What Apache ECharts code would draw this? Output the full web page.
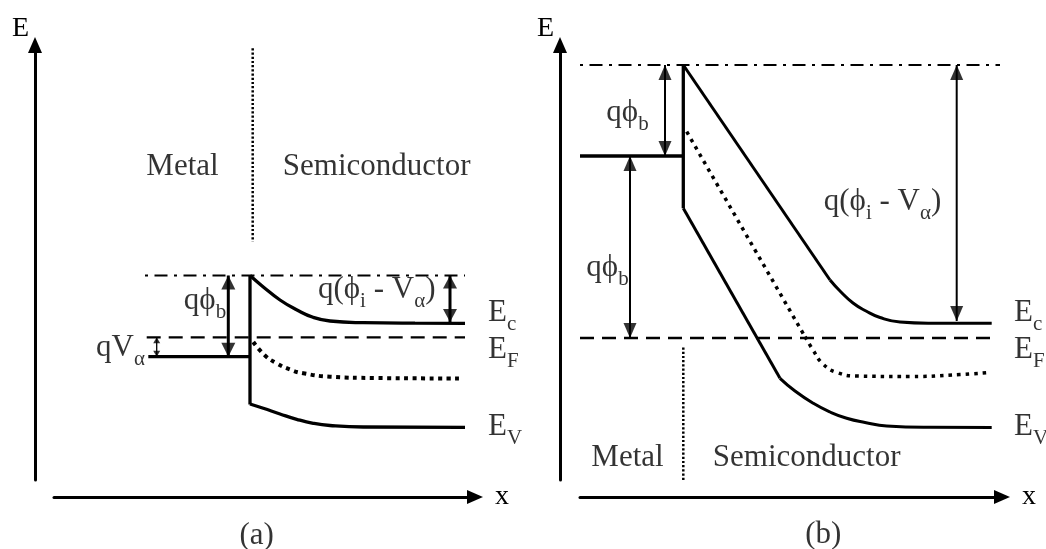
<!DOCTYPE html>
<html><head><meta charset="utf-8">
<script src="https://cdn.jsdelivr.net/npm/echarts@6/dist/echarts.min.js"></script>
<style>html,body{margin:0;padding:0;background:#fff}#c{width:1046px;height:549px}</style>
</head><body><div id="c"></div>
<script>
// ===== Panel (a) — x: distance from E axis, E: energy (same arbitrary units) =====
const aVacuum     = [[110, 204.5], [430, 204.5]];
const aFermiSemi  = [[111.7, 142.7], [430, 142.7]];
const aFermiMetal = [[113.3, 123.3], [215, 123.3]];
const aBarrier    = [[215, 204.5], [215, 75.5]];
const aEc = [[215, 204.5], [228, 193.3], [245, 180], [262, 170], [278, 162.7], [295, 159], [328, 157.3], [380, 156.8], [430, 156.7]];
const aEi = [[218.3, 138], [230, 124.5], [241.7, 116.7], [255, 110.5], [268.3, 106.7], [295, 103.3], [340, 102], [428.3, 101.5]];
const aEv = [[215, 76], [228.3, 71.7], [245, 66], [261.7, 60.7], [278.3, 56.7], [295, 54.5], [328.3, 53], [430, 52.7]];
const aInterface = [[217.7, 431.7], [217.7, 238.3]];
const aArrows = [[193.3, 204.5, 123.3], [415, 204.5, 158], [121.7, 142.7, 123.3]];
const aTexts = [['Metal', 147.5, 313], ['Semiconductor', 341.7, 313], ['qϕ_b', 170, 179], ['q(ϕ_i - V_α)', 341.7, 190], ['(a)', 221.7, -56]];
const aTextsRight = [['E_c', 453, 166.7], ['E_F', 453, 130], ['E_V', 453, 53.3]];
const aTextsLeft = [['qV_α', 110, 132]];

// ===== Panel (b) =====
const bVacuum     = [[20, 415], [440, 415]];
const bFermiSemi  = [[20, 142], [430, 142]];
const bFermiMetal = [[20, 324], [123.3, 324]];
const bBarrier    = [[123.3, 415], [123.3, 271.7]];
const bEcSlope = [[123.3, 415], [270, 200]];
const bEcTail  = [[270, 200], [280, 189], [293, 177], [306, 169], [320, 162.5], [340, 158], [370, 156.8], [431.7, 156.7]];
const bEiSlope = [[126.7, 348.3], [245, 143.3]];
const bEiTail  = [[245, 143.3], [253, 130], [263, 116], [277, 107.5], [297, 104], [350, 103.5], [400, 105.5], [430, 107.5]];
const bEvSlope = [[123.3, 271.7], [220, 101.7]];
const bEvTail  = [[220, 101.7], [235, 89], [253.3, 76.7], [270, 68], [286.7, 61.7], [305, 57.5], [326.7, 54], [370, 52.7], [431.7, 52.5]];
const bInterface = [[123.3, 132.5], [123.3, 0]];
const bArrows = [[105, 415, 324], [70, 324, 142], [396.7, 415, 159]];
const bTexts = [['qϕ_b', 67.5, 367], ['qϕ_b', 47.5, 212], ['q(ϕ_i - V_α)', 322.5, 278], ['Metal', 67.5, 22], ['Semiconductor', 246.7, 22], ['(b)', 263.3, -55]];
const bTextsRight = [['E_c', 454, 166.7], ['E_F', 454, 130], ['E_V', 454, 53.3]];

// ===== styling / helpers =====
const FONT = "'Liberation Serif','DejaVu Serif',serif";
const RICH = {
  m: { fontFamily: FONT, fontSize: 31, lineHeight: 44, color: '#000' },
  s: { fontFamily: FONT, fontSize: 21, lineHeight: 21, verticalAlign: 'bottom', color: '#000' }
};
function toRich(s) {
  let out = '', buf = '';
  for (let i = 0; i < s.length; i++) {
    if (s[i] === '_') { if (buf) { out += '{m|' + buf + '}'; buf = ''; } out += '{s|' + s[i + 1] + '}'; i++; }
    else buf += s[i];
  }
  if (buf) out += '{m|' + buf + '}';
  return out;
}
function line(g, data, style, smooth) {
  return { type: 'line', xAxisIndex: g, yAxisIndex: g, data, symbol: 'none', silent: true, animation: false,
    smooth: smooth || false, z: 2,
    lineStyle: Object.assign({ color: '#000', width: 3 }, style) };
}
function arrows(g, list, widths, heads) {
  const out = [];
  const pts = [];
  list.forEach((a, i) => {
    out.push(line(g, [[a[0], a[1]], [a[0], a[2]]], { width: widths[i] }));
    const top = Math.max(a[1], a[2]), bot = Math.min(a[1], a[2]);
    const h = heads[i];
    pts.push({ value: [a[0], top], symbolSize: h, symbolRotate: 0, symbolOffset: [0, h[1] / 2] });
    pts.push({ value: [a[0], bot], symbolSize: h, symbolRotate: 180, symbolOffset: [0, -h[1] / 2] });
  });
  out.push({ type: 'scatter', xAxisIndex: g, yAxisIndex: g, symbol: 'triangle', clip: false, silent: true,
    animation: false, z: 3, itemStyle: { color: '#000' }, data: pts });
  return out;
}
function texts(g, list, position) {
  return { type: 'scatter', xAxisIndex: g, yAxisIndex: g, symbolSize: 0, clip: false, silent: true, animation: false, z: 5,
    label: { show: true, position, distance: 0, formatter: p => toRich(p.name), rich: RICH, color: '#000',
      fontFamily: FONT, fontSize: 31 },
    data: list.map(t => ({ name: t[0], value: [t[1], t[2]] })) };
}

const DASHDOT = { width: 2.2, type: [3, 6.5, 13, 6.5] };
const DASHED = { width: 2.3, type: [14, 8] };
const SEP = { width: 2.5, type: [2.2, 2] };

function dataY(g) {
  return { type: 'value', gridIndex: g, min: 0, max: 435,
    axisLine: { show: true, onZero: false, symbol: ['none', 'triangle'], symbolSize: [14, 16], lineStyle: { color: '#000', width: 3 } },
    axisTick: { show: false }, axisLabel: { show: false }, splitLine: { show: false },
    name: 'E', nameLocation: 'end', nameGap: 2,
    nameTextStyle: { fontFamily: FONT, fontSize: 28, color: '#000', align: 'right', padding: [0, 6, 0, 0] } };
}
function axisX(g) {
  return { type: 'value', gridIndex: g, min: 0, max: 1,
    axisLine: { show: true, onZero: false, symbol: ['none', 'triangle'], symbolSize: [14, 16], lineStyle: { color: '#000', width: 3 } },
    axisTick: { show: false }, axisLabel: { show: false }, splitLine: { show: false },
    name: 'x', nameLocation: 'end', nameGap: 20,
    nameTextStyle: { fontFamily: FONT, fontSize: 28, color: '#000', padding: [0, 0, 5, 0] } };
}
const hidden = (g, max) => ({ type: 'value', gridIndex: g, min: 0, max, show: false });

const chart = echarts.init(document.getElementById('c'), null, { renderer: 'canvas' });
chart.setOption({
  backgroundColor: '#fff',
  animation: false,
  grid: [
    { left: 35, top: 45, width: 440, height: 435, outerBoundsMode: 'none' },
    { left: 54, top: 45, width: 421, height: 452, outerBoundsMode: 'none' },
    { left: 560, top: 45, width: 440, height: 435, outerBoundsMode: 'none' },
    { left: 580, top: 45, width: 422, height: 452, outerBoundsMode: 'none' }
  ],
  xAxis: [hidden(0, 440), axisX(1), hidden(2, 440), axisX(3)],
  yAxis: [dataY(0), hidden(1, 1), dataY(2), hidden(3, 1)],
  series: [
    line(0, aVacuum, DASHDOT),
    line(0, aFermiSemi, DASHED),
    line(0, aFermiMetal, { width: 3.3 }),
    line(0, aBarrier, { width: 3.3 }),
    line(0, aEc, { width: 3.3 }, 0.5),
    line(0, aEi, { width: 4, type: [4, 4.5] }, 0.5),
    line(0, aEv, { width: 3.3 }, 0.5),
    line(0, aInterface, SEP),
    ...arrows(0, aArrows, [3, 3, 1.3], [[14, 14], [14, 13], [7, 6]]),
    texts(0, aTexts, 'inside'),
    texts(0, aTextsRight, 'right'),
    texts(0, aTextsLeft, 'left'),

    line(2, bVacuum, DASHDOT),
    line(2, bFermiSemi, DASHED),
    line(2, bFermiMetal, { width: 3.3 }),
    line(2, bBarrier, { width: 3.3 }),
    line(2, bEcSlope, { width: 3 }),
    line(2, bEcTail, { width: 3 }, 0.5),
    line(2, bEiSlope, { width: 3.5, type: [3.5, 5] }),
    line(2, bEiTail, { width: 3.5, type: [3.5, 5] }, 0.5),
    line(2, bEvSlope, { width: 3 }),
    line(2, bEvTail, { width: 3 }, 0.5),
    line(2, bInterface, SEP),
    ...arrows(2, bArrows, [2, 2, 2], [[13, 15], [13, 15], [13, 15]]),
    texts(2, bTexts, 'inside'),
    texts(2, bTextsRight, 'right')
  ]
});
</script>
</body></html>
